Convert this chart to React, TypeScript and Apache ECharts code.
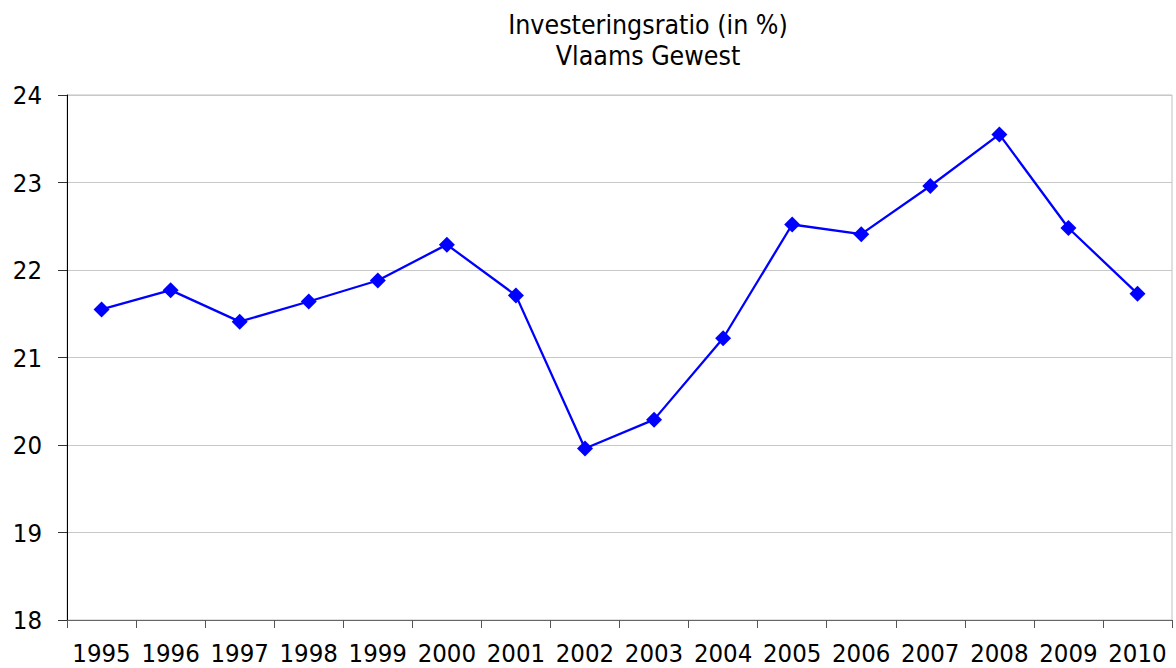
import React, { useEffect, useRef } from "react";
import * as echarts from "echarts";

const years = ["1995","1996","1997","1998","1999","2000","2001","2002","2003","2004","2005","2006","2007","2008","2009","2010"];
const ratio = [21.55,21.77,21.41,21.64,21.88,22.29,21.71,19.96,20.29,21.22,22.52,22.41,22.96,23.55,22.48,21.73];

export default function App() {
  const ref = useRef<HTMLDivElement>(null);
  useEffect(() => {
    const chart = echarts.init(ref.current!, null, { renderer: "svg" });
    const font = "DejaVu Sans Condensed, DejaVu Sans";
    chart.setOption({
      animation: false,
      backgroundColor: "#ffffff",
      title: {
        text: "Investeringsratio (in %)\nVlaams Gewest",
        left: 643,
        textAlign: "center",
        top: 4,
        textStyle: { fontFamily: font, fontSize: 26.5, fontWeight: "normal", color: "#000", lineHeight: 31 },
      },
      grid: { left: 67, right: 4, top: 95, bottom: 48, show: true, borderColor: "#c0c0c0", borderWidth: 1, backgroundColor: "transparent" },
      xAxis: {
        type: "category",
        data: years,
        boundaryGap: true,
        axisLine: { lineStyle: { color: "#666", width: 1 } },
        axisTick: { show: true, alignWithLabel: false, length: 8, lineStyle: { color: "#555" } },
        axisLabel: { fontFamily: font, fontSize: 25.5, color: "#000", margin: 20, interval: 0 },
        splitLine: { show: false },
      },
      yAxis: {
        type: "value",
        min: 18,
        max: 24,
        interval: 1,
        axisLine: { show: true, lineStyle: { color: "#000", width: 1 } },
        axisTick: { show: true, length: 9, lineStyle: { color: "#333" } },
        axisLabel: { fontFamily: font, fontSize: 25.5, color: "#000", margin: 25 },
        splitLine: { show: true, lineStyle: { color: "#c8c8c8", width: 1 } },
      },
      series: [
        {
          type: "line",
          data: ratio,
          symbol: "diamond",
          symbolSize: 16,
          lineStyle: { color: "#0000ff", width: 2.3 },
          itemStyle: { color: "#0000ff" },
        },
      ],
    });
    return () => chart.dispose();
  }, []);
  return <div ref={ref} style={{ position: "fixed", left: 0, top: 0, width: 1176, height: 668 }} />;
}
